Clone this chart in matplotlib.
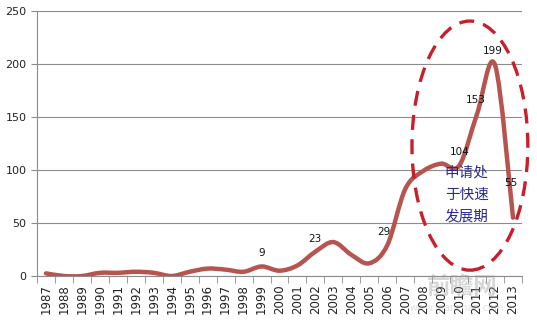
import matplotlib
matplotlib.use("Agg")
import matplotlib.pyplot as plt
from matplotlib.path import Path
from matplotlib.patches import PathPatch, Ellipse

plt.rcParams['font.family'] = ['DejaVu Sans', 'Noto Sans CJK SC']

years = [str(y) for y in range(1987, 2014)]
counts = [2.5, 0, 0, 3, 3, 4, 3, 0, 4, 7, 6, 4, 9, 5, 10, 23, 32, 20, 12, 29, 82, 99, 106, 104, 153, 199, 55]
labelled = {"1999": 9, "2002": 23, "2006": 29, "2010": 104, "2011": 153, "2012": 199, "2013": 55}
label_offsets = {"1999": (0, 8), "2002": (-1, 8), "2006": (-3, 8), "2010": (1, 9),
                 "2011": (-1, 9), "2012": (-2, 9), "2013": (-2, 30)}
note = "申请处\n于快速\n发展期"

line_color = "#b65450"
grid_color = "#8c8c8c"


def smooth_path(xs, ys):
    # Catmull-Rom segments written as cubic Bezier pieces
    pts = list(zip(xs, ys))
    ext = [pts[0]] + pts + [pts[-1]]
    verts = [pts[0]]
    codes = [Path.MOVETO]
    for i in range(1, len(ext) - 2):
        p0, p1, p2, p3 = ext[i - 1], ext[i], ext[i + 1], ext[i + 2]
        c1 = (p1[0] + (p2[0] - p0[0]) / 6, p1[1] + (p2[1] - p0[1]) / 6)
        c2 = (p2[0] - (p3[0] - p1[0]) / 6, p2[1] - (p3[1] - p1[1]) / 6)
        verts += [c1, c2, p2]
        codes += [Path.CURVE4] * 3
    return Path(verts, codes)


fig = plt.figure(figsize=(5.37, 3.22), dpi=100)
ax = fig.add_axes([37 / 537, 1 - 276 / 322, 485 / 537, 265 / 322])

x = list(range(len(years)))
ax.add_patch(PathPatch(smooth_path(x, counts), facecolor="none", edgecolor=line_color,
                       lw=3.2, capstyle="round", joinstyle="round", zorder=3))

for yr, val in labelled.items():
    i = years.index(yr)
    dx, dy = label_offsets[yr]
    ax.annotate(str(val), (i, val), xytext=(dx, dy), textcoords="offset pixels",
                ha="center", va="bottom", fontsize=7.5, color="#111111", zorder=5)

ax.set_xlim(-0.5, len(years) - 0.5)
ax.set_ylim(0, 250)
ax.set_yticks(range(0, 251, 50))
ax.set_xticks(x)
ax.set_xticklabels(years, rotation=90, fontsize=8.5)
ax.tick_params(axis="x", length=0, pad=6, colors="#222222")
ax.set_xticks([i + 0.5 for i in range(-1, len(years))], minor=True)
ax.tick_params(axis="x", which="minor", length=5, color=grid_color, direction="out")
ax.tick_params(axis="y", length=4, labelsize=8, colors=grid_color, labelcolor="#222222")
ax.grid(axis="y", color=grid_color, lw=0.8)
ax.set_axisbelow(True)
for side in ["top", "right"]:
    ax.spines[side].set_visible(False)
for side in ["left", "bottom"]:
    ax.spines[side].set_color(grid_color)
    ax.spines[side].set_linewidth(0.8)

# dashed ring around the recent growth period
ring = Ellipse((23.6, 123), width=6.45, height=235, fill=False, edgecolor="#c8202a",
               lw=2.4, linestyle=(0, (4.5, 2.8)), zorder=4, clip_on=False)
ax.add_patch(ring)

ax.text(22.2, 77, note, fontsize=10.5, color="#2b2b8f", ha="left", va="center",
        linespacing=1.75, family=['Noto Sans CJK SC', 'DejaVu Sans'], zorder=6)

# site watermark
fig.text(0.862, 0.11, "前瞻网", fontsize=17, color="#9a9a9a", alpha=0.4, ha="center",
         va="center", family=['Noto Sans CJK SC', 'DejaVu Sans'], weight="bold")
fig.text(0.85, 0.045, "www.qianzhan.com", fontsize=7, color="#9a9a9a", alpha=0.3,
         ha="center", va="center")

fig.savefig("out.png", dpi=100)
